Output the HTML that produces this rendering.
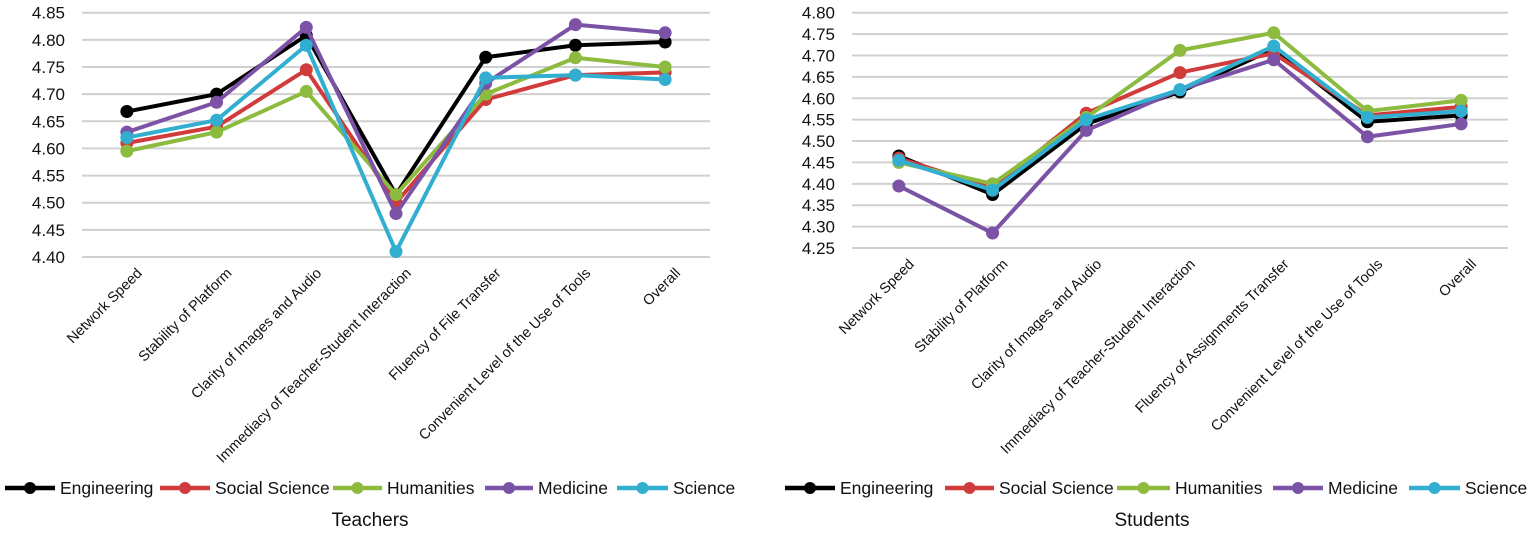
<!DOCTYPE html>
<html><head><meta charset="utf-8"><style>
body{margin:0;background:#fff;width:1535px;height:533px;overflow:hidden}
svg{display:block;font-family:"Liberation Sans",sans-serif}
</style></head><body>
<svg id="c" width="1535" height="533"></svg>
<script>
const categoriesT = ["Network Speed","Stability of Platform","Clarity of Images and Audio","Immediacy of Teacher-Student Interaction","Fluency of File Transfer","Convenient Level of the Use of Tools","Overall"];
const categoriesS = ["Network Speed","Stability of Platform","Clarity of Images and Audio","Immediacy of Teacher-Student Interaction","Fluency of Assignments Transfer","Convenient Level of the Use of Tools","Overall"];
const seriesNames = ["Engineering","Social Science","Humanities","Medicine","Science"];
const seriesColors = ["#000000","#d13b3b","#8cbb3f","#7b52a5","#31aed0"];
const tEngineering = [4.668,4.70,4.808,4.515,4.768,4.79,4.796];
const tSocial = [4.61,4.64,4.745,4.50,4.69,4.735,4.74];
const tHumanities = [4.595,4.63,4.705,4.515,4.70,4.767,4.75];
const tMedicine = [4.63,4.685,4.823,4.48,4.72,4.828,4.813];
const tScience = [4.62,4.652,4.79,4.41,4.73,4.735,4.727];
const sEngineering = [4.465,4.375,4.54,4.615,4.715,4.545,4.56];
const sSocial = [4.46,4.39,4.565,4.66,4.705,4.56,4.58];
const sHumanities = [4.45,4.40,4.555,4.712,4.753,4.57,4.595];
const sMedicine = [4.395,4.285,4.525,4.62,4.69,4.51,4.54];
const sScience = [4.455,4.385,4.55,4.62,4.722,4.555,4.57];
const ticksT = ["4.40","4.45","4.50","4.55","4.60","4.65","4.70","4.75","4.80","4.85"];
const ticksS = ["4.25","4.30","4.35","4.40","4.45","4.50","4.55","4.60","4.65","4.70","4.75","4.80"];

const NS="http://www.w3.org/2000/svg";
const svg=document.getElementById('c');
function mk(tag,attrs,parent){const e=document.createElementNS(NS,tag);for(const k in attrs)e.setAttribute(k,attrs[k]);(parent||svg).appendChild(e);return e;}

function drawChart(o){
  const g=mk('g',{});
  
  
  const yMin=+o.ticks[0], yMax=+o.ticks[o.ticks.length-1];
  const y=v=>o.yTop+(yMax-v)/(yMax-yMin)*(o.yBot-o.yTop);
  const step=(o.xR-o.xL)/o.cats.length;
  const x=i=>o.xL+step*(i+0.5);
  o.ticks.forEach(t=>{
    const l=mk('line',{x1:o.xL,x2:o.xR,y1:y(+t),y2:y(+t),stroke:'#d0d0d0','stroke-width':2},g);
    
    
    const tx=mk('text',{x:o.xL-17,y:y(+t)+6,'text-anchor':'end','font-size':17,fill:'#111'},g);
    tx.textContent=t;
    
    
  });
  o.cats.forEach((c,i)=>{
    const tx=mk('text',{x:0,y:0,'text-anchor':'end','font-size':14.5,fill:'#111',transform:`translate(${x(i)+16},${o.yBot+17}) rotate(-45)`},g);
    tx.textContent=c;
    
    
  });
  o.series.forEach((d,s)=>{
    const pts=d.map((v,i)=>x(i)+','+y(v)).join(' ');
    const pl=mk('polyline',{points:pts,fill:'none',stroke:seriesColors[s],'stroke-width':4,'stroke-linejoin':'round'},g);
    
    
    d.forEach((v,i)=>{
      const c=mk('circle',{cx:x(i),cy:y(v),r:6.5,fill:seriesColors[s]},g);
      
      
    });
  });
  o.legend.forEach((L,s)=>{
    const lg=mk('g',{},g);
    
    
    mk('line',{x1:L[0],x2:L[1],y1:488,y2:488,stroke:seriesColors[s],'stroke-width':4.5},lg);
    mk('circle',{cx:(L[0]+L[1])/2,cy:488,r:6,fill:seriesColors[s]},lg);
    const t=mk('text',{x:L[1]+5,y:494,'font-size':17.5,fill:'#111'},lg);
    t.textContent=seriesNames[s];
  });
  const tt=mk('text',{x:o.titleX,y:526,'text-anchor':'middle','font-size':19,fill:'#111'},g);
  tt.textContent=o.title;
  
  
}
drawChart({name:'teachers-chart',title:'Teachers',titleX:370,xL:82,xR:710,yTop:12.7,yBot:257,ticks:ticksT,cats:categoriesT,
  series:[tEngineering,tSocial,tHumanities,tMedicine,tScience],
  legend:[[5,55],[160,210],[333,382],[485,533],[617,668]]});
drawChart({name:'students-chart',title:'Students',titleX:1152,xL:852,xR:1508,yTop:12.7,yBot:248,ticks:ticksS,cats:categoriesS,
  series:[sEngineering,sSocial,sHumanities,sMedicine,sScience],
  legend:[[785,835],[945,994],[1117,1170],[1273,1323],[1409,1460]]});
</script>
</body></html>
